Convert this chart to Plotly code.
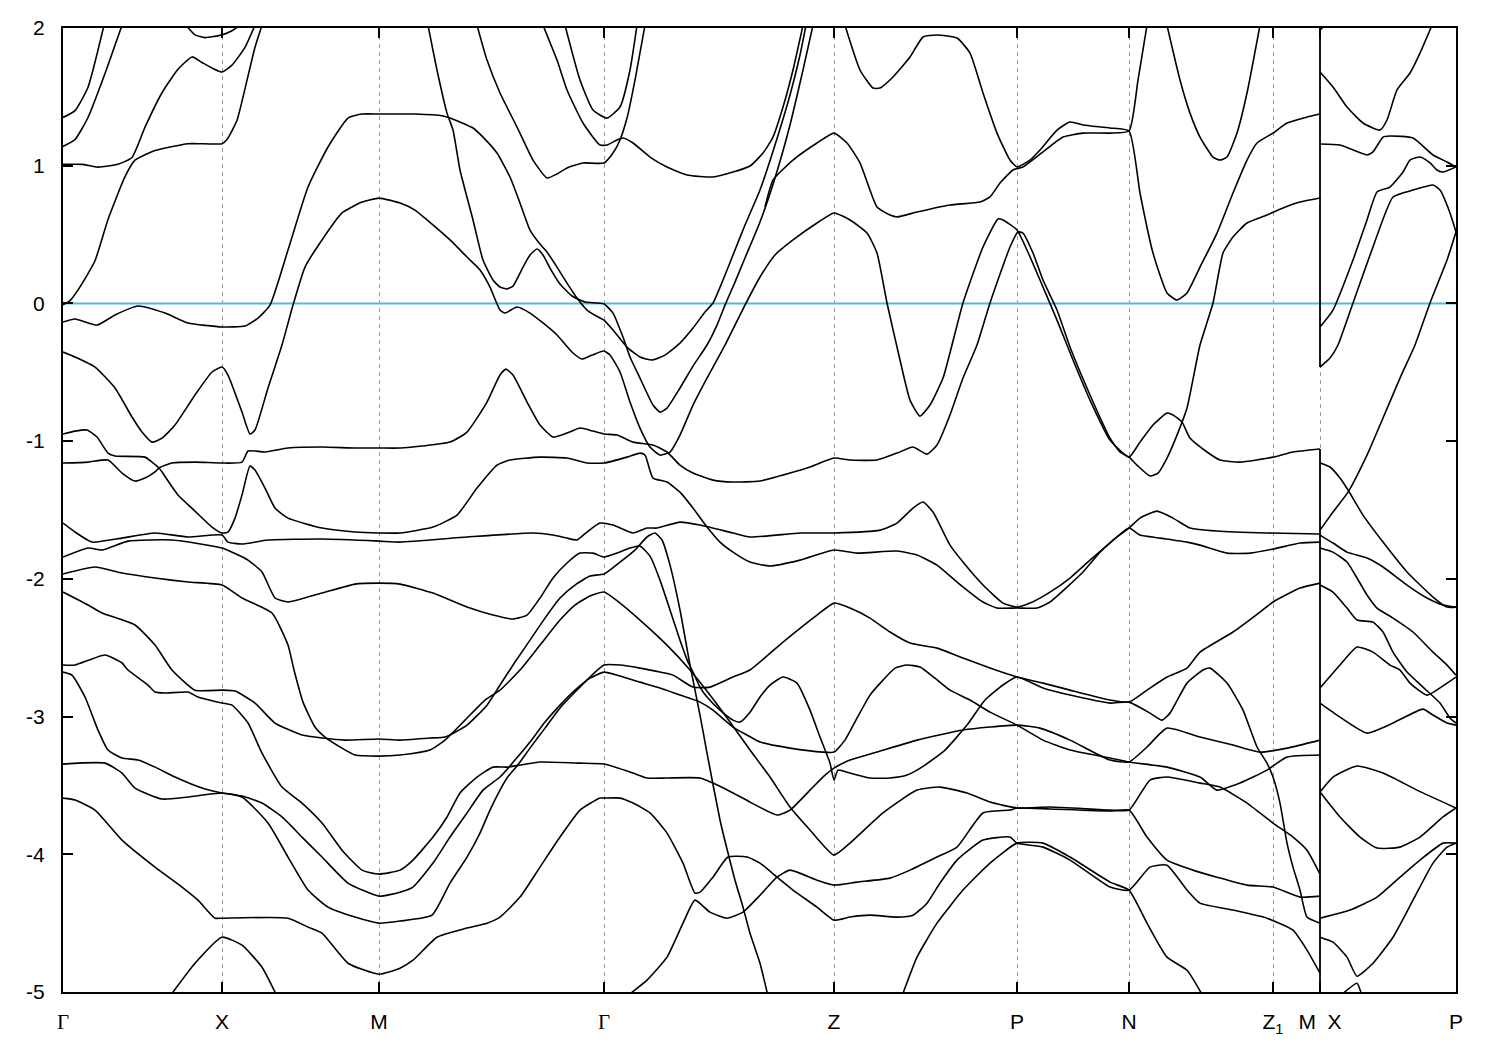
import plotly.graph_objects as go

# ---------------- axis data ----------------
hs_k = [0.000, 0.159, 0.316, 0.541, 0.771, 0.954, 1.066, 1.210, 1.257, 1.393]
GAM = '<span style="font-family:Liberation Serif">Γ</span>'
hs_labels = [GAM, "X", "M", GAM, "Z", "P", "N", "Z<sub>1</sub>", "M\u00a0\u00a0X", "P"]
y_ticks = [2, 1, 0, -1, -2, -3, -4, -5]
y_labels = ["2", "1", "0", "-1", "-2", "-3", "-4", "-5"]
fermi_level = 0.0
e_range = [-5.0, 2.0]

# ---------------- bands, path  Γ-X-M-Γ-Z-P-N-Z1-M  (k, E in eV) ----------------
b01 = [(0.000,1.35),(0.012,1.40),(0.025,1.57),(0.041,2.02)]
b02 = [(0.000,1.14),(0.012,1.19),(0.025,1.35),(0.042,1.67),(0.059,2.02)]
b03 = [(0.000,1.01),(0.019,1.01),(0.035,0.99),(0.055,1.01),(0.069,1.06),(0.082,1.28),(0.099,1.53),
       (0.115,1.70),(0.129,1.79),(0.139,1.75),(0.149,1.71),(0.159,1.68),(0.169,1.73),(0.182,1.86),(0.192,2.02)]
b04 = [(0.123,2.02),(0.132,1.95),(0.142,1.93),(0.159,1.95),(0.169,1.98),(0.177,2.02)]
b05 = [(0.000,-0.01),(0.007,0.02),(0.017,0.12),(0.032,0.31),(0.045,0.61),(0.062,0.92),(0.072,1.04),
       (0.092,1.11),(0.125,1.16),(0.159,1.16),(0.164,1.19),(0.174,1.33),(0.184,1.62),(0.192,1.86),(0.199,2.02)]
b06 = [(0.000,-0.135),(0.012,-0.113),(0.034,-0.157),(0.052,-0.084),(0.075,-0.019),(0.102,-0.070),(0.125,-0.142),
       (0.159,-0.171),(0.182,-0.164),(0.195,-0.106),(0.207,-0.012),(0.225,0.388),(0.245,0.845),(0.265,1.136),
       (0.285,1.346),(0.299,1.375),(0.316,1.375),(0.352,1.375),(0.380,1.361),(0.387,1.346),(0.410,1.274),
       (0.420,1.208),(0.434,1.092),(0.447,0.918),(0.457,0.729),(0.467,0.533),(0.477,0.431),(0.484,0.373),
       (0.494,0.264),(0.504,0.148),(0.514,0.039),(0.524,-0.048),(0.537,-0.106),(0.541,-0.121),(0.550,-0.193),
       (0.564,-0.317),(0.577,-0.389),(0.589,-0.411),(0.602,-0.375),(0.617,-0.288),(0.630,-0.179),(0.642,-0.062),
       (0.650,0.003),(0.660,0.170),(0.670,0.352),(0.682,0.569),(0.697,0.823),(0.712,1.150),(0.727,1.513),
       (0.737,1.804),(0.743,2.02)]
b07 = [(0.000,-0.353),(0.012,-0.389),(0.032,-0.462),(0.052,-0.614),(0.069,-0.825),(0.079,-0.934),(0.089,-1.007),
       (0.099,-0.978),(0.112,-0.883),(0.132,-0.665),(0.149,-0.498),(0.159,-0.462),(0.165,-0.520),(0.179,-0.789),
       (0.187,-0.948),(0.192,-0.919),(0.205,-0.614),(0.219,-0.302),(0.230,-0.012),(0.242,0.264),(0.259,0.461),
       (0.279,0.657),(0.299,0.736),(0.316,0.765),(0.337,0.729),(0.352,0.678),(0.364,0.606),(0.387,0.461),
       (0.404,0.337),(0.417,0.243),(0.427,0.119),(0.437,-0.048),(0.442,-0.070),(0.454,-0.026),(0.467,-0.070),
       (0.480,-0.142),(0.494,-0.229),(0.510,-0.360),(0.519,-0.404),(0.529,-0.375),(0.541,-0.346),(0.547,-0.375),
       (0.557,-0.498),(0.567,-0.716),(0.577,-0.905),(0.587,-1.043),(0.597,-1.101),(0.607,-1.079),(0.617,-0.956),
       (0.630,-0.738),(0.644,-0.542),(0.662,-0.302),(0.682,-0.012),(0.697,0.192),(0.712,0.352),(0.730,0.461),
       (0.754,0.584),(0.771,0.657),(0.787,0.606),(0.804,0.511),(0.814,0.366),(0.824,0.003),(0.837,-0.411),
       (0.847,-0.702),(0.857,-0.818),(0.867,-0.738),(0.880,-0.542),(0.889,-0.302),(0.900,0.003),(0.920,0.410),
       (0.935,0.613),(0.940,0.606),(0.954,0.533),(0.964,0.388),(0.977,0.170),(0.994,-0.121),(1.010,-0.411),
       (1.027,-0.702),(1.047,-0.992),(1.066,-1.116),(1.077,-1.007),(1.090,-0.883),(1.104,-0.796),(1.110,-0.810),
       (1.119,-0.861),(1.127,-0.978),(1.144,-1.079),(1.157,-1.137),(1.177,-1.152),(1.210,-1.116),(1.230,-1.079),
       (1.257,-1.057)]
b08 = [(0.365,2.02),(0.374,1.695),(0.384,1.382),(0.390,1.259),(0.397,0.969),(0.410,0.606),(0.420,0.315),
       (0.430,0.170),(0.437,0.119),(0.444,0.105),(0.450,0.126),(0.460,0.264),(0.467,0.352),(0.474,0.395),
       (0.480,0.352),(0.487,0.257),(0.497,0.141),(0.509,0.054),(0.522,0.010),(0.541,-0.004),(0.550,-0.070),
       (0.560,-0.244),(0.567,-0.389),(0.577,-0.542),(0.590,-0.738),(0.597,-0.789),(0.604,-0.760),(0.617,-0.614),
       (0.630,-0.455),(0.644,-0.302),(0.654,-0.157),(0.662,-0.012),(0.672,0.155),(0.682,0.330),(0.697,0.591),
       (0.712,0.911),(0.727,1.296),(0.740,1.695),(0.750,2.02)]
b09 = [(0.414,2.02),(0.424,1.767),(0.437,1.528),(0.454,1.281),(0.470,1.041),(0.484,0.911),(0.494,0.940),
       (0.504,0.984),(0.520,1.020),(0.541,1.020),(0.550,1.092),(0.557,1.187),(0.564,1.346),(0.572,1.622),(0.582,2.02)]
b10 = [(0.480,2.02),(0.494,1.767),(0.504,1.550),(0.520,1.310),(0.537,1.150),(0.544,1.150),(0.554,1.187),
       (0.560,1.201),(0.570,1.165),(0.587,1.063),(0.604,0.991),(0.624,0.933),(0.650,0.918),(0.670,0.954),
       (0.687,0.998),(0.700,1.092),(0.710,1.208),(0.720,1.426),(0.730,1.695),(0.740,2.02)]
b11 = [(0.502,2.02),(0.517,1.622),(0.530,1.404),(0.544,1.346),(0.557,1.426),(0.567,1.695),(0.574,2.02)]
b12 = [(0.702,0.700),(0.710,0.896),(0.730,1.041),(0.754,1.165),(0.771,1.237),(0.784,1.165),(0.797,1.020),
       (0.814,0.700),(0.827,0.642),(0.834,0.628),(0.854,0.664),(0.887,0.715),(0.917,0.736),(0.927,0.773),
       (0.937,0.874),(0.950,0.969),(0.960,0.991),(0.980,1.100),(1.000,1.208),(1.020,1.237),(1.047,1.237),
       (1.066,1.252),(1.075,1.622),(1.084,2.02)]
b13 = [(0.782,2.02),(0.797,1.695),(0.810,1.564),(0.817,1.564),(0.830,1.644),(0.847,1.789),(0.860,1.935),
       (0.874,1.949),(0.894,1.927),(0.907,1.818),(0.920,1.528),(0.934,1.237),(0.947,1.041),(0.954,0.991),
       (0.967,1.041),(0.977,1.114),(0.994,1.259),(1.007,1.317),(1.020,1.296),(1.047,1.274),(1.066,1.252),
       (1.077,0.802),(1.090,0.366),(1.104,0.076),(1.114,0.025),(1.124,0.076),(1.137,0.264),(1.154,0.511),
       (1.170,0.802),(1.184,1.041),(1.194,1.165),(1.210,1.237),(1.224,1.310),(1.244,1.353),(1.257,1.375)]
b14 = [(1.104,2.02),(1.117,1.622),(1.127,1.382),(1.137,1.208),(1.150,1.063),(1.157,1.041),(1.164,1.063),
       (1.174,1.237),(1.184,1.528),(1.197,2.02)]
b15 = [(0.000,-1.159),(0.025,-1.152),(0.045,-1.137),(0.059,-1.232),(0.072,-1.290),(0.082,-1.268),(0.092,-1.224),
       (0.096,-1.195),(0.109,-1.159),(0.132,-1.152),(0.159,-1.159),(0.179,-1.152),(0.185,-1.072),(0.192,-1.072),
       (0.202,-1.079),(0.225,-1.050),(0.259,-1.043),(0.292,-1.050),(0.316,-1.050),(0.337,-1.050),(0.387,-1.007),
       (0.404,-0.934),(0.424,-0.716),(0.437,-0.520),(0.443,-0.477),(0.450,-0.520),(0.464,-0.716),(0.477,-0.883),
       (0.490,-0.970),(0.504,-0.941),(0.517,-0.905),(0.530,-0.927),(0.541,-0.948),(0.554,-0.956),(0.570,-1.007),
       (0.590,-1.028),(0.604,-1.079),(0.617,-1.174),(0.630,-1.232),(0.650,-1.283),(0.670,-1.297),(0.697,-1.290),
       (0.727,-1.232),(0.747,-1.188),(0.771,-1.123),(0.787,-1.137),(0.814,-1.137),(0.834,-1.087),(0.850,-1.043),
       (0.864,-1.094),(0.874,-1.028),(0.887,-0.810),(0.900,-0.542),(0.914,-0.302),(0.927,0.003),(0.947,0.410),
       (0.955,0.519),(0.960,0.511),(0.970,0.366),(0.980,0.170),(0.994,-0.048),(1.007,-0.317),(1.027,-0.665),
       (1.047,-0.978),(1.057,-1.079),(1.066,-1.116),(1.074,-1.174),(1.087,-1.253),(1.095,-1.232),(1.104,-1.123),
       (1.114,-0.956),(1.124,-0.760),(1.137,-0.302),(1.150,0.003),(1.160,0.366),(1.170,0.482),(1.184,0.584),
       (1.204,0.642),(1.220,0.693),(1.237,0.736),(1.257,0.765)]
b16 = [(0.000,-0.948),(0.012,-0.927),(0.024,-0.919),(0.034,-0.970),(0.045,-1.087),(0.052,-1.108),(0.082,-1.116),
       (0.089,-1.152),(0.096,-1.195),(0.099,-1.224),(0.115,-1.391),(0.132,-1.508),(0.149,-1.624),(0.159,-1.667),
       (0.165,-1.660),(0.172,-1.559),(0.179,-1.391),(0.187,-1.181),(0.192,-1.210),(0.202,-1.341),(0.212,-1.486),
       (0.225,-1.559),(0.259,-1.631),(0.292,-1.660),(0.316,-1.667),(0.337,-1.667),(0.370,-1.624),(0.394,-1.537),
       (0.414,-1.341),(0.434,-1.174),(0.447,-1.137),(0.477,-1.116),(0.504,-1.123),(0.524,-1.159),(0.541,-1.159),
       (0.564,-1.116),(0.577,-1.087),(0.582,-1.101),(0.590,-1.268),(0.604,-1.297),(0.617,-1.370),(0.630,-1.486),
       (0.644,-1.624),(0.657,-1.733),(0.670,-1.806),(0.687,-1.878),(0.707,-1.907),(0.737,-1.864),(0.771,-1.791),
       (0.794,-1.813),(0.834,-1.798),(0.854,-1.827),(0.874,-1.900),(0.894,-2.023),(0.920,-2.168),(0.934,-2.212),
       (0.954,-2.212),(0.974,-2.212),(0.987,-2.168),(1.020,-1.950),(1.037,-1.806),(1.050,-1.718),(1.066,-1.631),
       (1.077,-1.559),(1.094,-1.508),(1.110,-1.559),(1.127,-1.631),(1.154,-1.653),(1.204,-1.667),(1.257,-1.674)]
b17 = [(0.000,-1.595),(0.012,-1.660),(0.029,-1.733),(0.059,-1.704),(0.092,-1.667),(0.125,-1.696),(0.159,-1.682),
       (0.165,-1.733),(0.179,-1.747),(0.205,-1.718),(0.259,-1.711),(0.316,-1.726),(0.337,-1.733),(0.404,-1.696),
       (0.470,-1.667),(0.490,-1.682),(0.504,-1.704),(0.514,-1.718),(0.524,-1.660),(0.537,-1.595),(0.550,-1.609),
       (0.570,-1.667),(0.584,-1.631),(0.594,-1.631),(0.617,-1.588),(0.637,-1.609),(0.670,-1.667),(0.687,-1.696),
       (0.737,-1.667),(0.771,-1.667),(0.817,-1.646),(0.834,-1.595),(0.850,-1.486),(0.860,-1.442),(0.870,-1.515),
       (0.887,-1.755),(0.900,-1.878),(0.920,-2.045),(0.940,-2.176),(0.954,-2.205),(0.967,-2.176),(0.987,-2.096),
       (1.007,-1.994),(1.027,-1.864),(1.047,-1.740),(1.066,-1.631),(1.077,-1.682),(1.097,-1.704),(1.124,-1.733),
       (1.137,-1.755),(1.164,-1.813),(1.187,-1.813),(1.210,-1.784),(1.237,-1.740),(1.257,-1.733)]
b18 = [(0.000,-1.842),(0.025,-1.776),(0.039,-1.791),(0.065,-1.726),(0.109,-1.718),(0.159,-1.776),(0.185,-1.864),
       (0.199,-1.950),(0.212,-2.139),(0.225,-2.168),(0.259,-2.103),(0.292,-2.038),(0.316,-2.031),(0.337,-2.038),
       (0.370,-2.103),(0.404,-2.205),(0.430,-2.263),(0.450,-2.292),(0.464,-2.263),(0.477,-2.139),(0.490,-1.994),
       (0.504,-1.885),(0.517,-1.813),(0.530,-1.813),(0.541,-1.842),(0.554,-1.813),(0.567,-1.776),(0.577,-1.762),
       (0.587,-1.835),(0.597,-2.009),(0.607,-2.226),(0.617,-2.445),(0.625,-2.604),(0.630,-2.677),(0.637,-2.786),
       (0.644,-2.858),(0.657,-2.953),(0.670,-3.026),(0.677,-3.040),(0.687,-2.968),(0.697,-2.858),(0.707,-2.771),
       (0.720,-2.713),(0.734,-2.757),(0.747,-2.953),(0.757,-3.149),(0.767,-3.338),(0.771,-3.461),(0.775,-3.389),
       (0.787,-3.410),(0.807,-3.446),(0.827,-3.446),(0.844,-3.425),(0.862,-3.352),(0.882,-3.243),(0.904,-3.062),
       (0.922,-2.880),(0.940,-2.771),(0.954,-2.713),(0.980,-2.793),(1.007,-2.844),(1.047,-2.902),(1.066,-2.895),
       (1.087,-2.975),(1.099,-3.026),(1.107,-2.975),(1.124,-2.757),(1.140,-2.662),(1.147,-2.648),(1.164,-2.757),
       (1.180,-2.953),(1.194,-3.221),(1.204,-3.338),(1.210,-3.439),(1.217,-3.628),(1.224,-3.919),(1.230,-4.093),
       (1.237,-4.260),(1.244,-4.456),(1.257,-4.500)]
b19 = [(0.000,-1.965),(0.032,-1.914),(0.059,-1.958),(0.092,-1.994),(0.125,-2.023),(0.159,-2.045),(0.179,-2.139),
       (0.209,-2.248),(0.225,-2.481),(0.231,-2.662),(0.240,-2.895),(0.252,-3.076),(0.262,-3.149),(0.279,-3.229),
       (0.292,-3.279),(0.316,-3.287),(0.337,-3.279),(0.367,-3.243),(0.382,-3.171),(0.402,-3.026),(0.422,-2.880),
       (0.437,-2.808),(0.457,-2.662),(0.477,-2.481),(0.497,-2.299),(0.512,-2.190),(0.527,-2.125),(0.541,-2.096),
       (0.557,-2.176),(0.577,-2.299),(0.604,-2.481),(0.627,-2.662),(0.647,-2.844),(0.667,-3.040),(0.687,-3.243),
       (0.707,-3.439),(0.727,-3.657),(0.747,-3.824),(0.771,-4.006),(0.787,-3.919),(0.820,-3.700),(0.854,-3.534),
       (0.877,-3.512),(0.904,-3.555),(0.927,-3.621),(0.954,-3.664),(0.987,-3.657),(1.047,-3.679),(1.066,-3.679),
       (1.087,-3.461),(1.104,-3.439),(1.137,-3.483),(1.157,-3.512),(1.184,-3.628),(1.210,-3.773),(1.230,-3.875),
       (1.244,-3.970),(1.257,-4.144)]
b20 = [(0.000,-2.096),(0.025,-2.190),(0.039,-2.248),(0.072,-2.335),(0.092,-2.481),(0.109,-2.662),(0.132,-2.808),
       (0.159,-2.808),(0.172,-2.815),(0.192,-2.902),(0.212,-3.047),(0.239,-3.134),(0.259,-3.156),(0.282,-3.171),
       (0.316,-3.163),(0.337,-3.171),(0.367,-3.156),(0.382,-3.149),(0.404,-3.062),(0.424,-2.917),(0.437,-2.771),
       (0.452,-2.604),(0.467,-2.445),(0.482,-2.285),(0.497,-2.139),(0.512,-2.045),(0.527,-1.980),(0.541,-1.965),
       (0.557,-1.878),(0.572,-1.791),(0.584,-1.696),(0.592,-1.667),(0.599,-1.718),(0.607,-1.900),(0.617,-2.226),
       (0.627,-2.626),(0.637,-2.989),(0.644,-3.265),(0.657,-3.751),(0.665,-3.991),(0.672,-4.188),(0.680,-4.384),
       (0.687,-4.573),(0.697,-4.791),(0.705,-5.03)]
b21 = [(0.000,-2.626),(0.012,-2.626),(0.042,-2.553),(0.059,-2.611),(0.065,-2.662),(0.085,-2.771),(0.092,-2.822),
       (0.102,-2.829),(0.125,-2.822),(0.135,-2.858),(0.159,-2.902),(0.169,-2.917),(0.185,-3.047),(0.199,-3.265),
       (0.219,-3.512),(0.239,-3.628),(0.259,-3.773),(0.279,-3.970),(0.299,-4.115),(0.316,-4.144),(0.337,-4.115),
       (0.350,-4.042),(0.370,-3.875),(0.384,-3.729),(0.397,-3.555),(0.414,-3.439),(0.430,-3.367),(0.444,-3.367),
       (0.457,-3.352),(0.477,-3.330),(0.517,-3.338),(0.541,-3.345),(0.570,-3.410),(0.584,-3.446),(0.604,-3.446),
       (0.637,-3.446),(0.650,-3.483),(0.670,-3.555),(0.687,-3.621),(0.714,-3.715),(0.727,-3.679),(0.747,-3.534),
       (0.762,-3.425),(0.771,-3.374),(0.787,-3.316),(0.814,-3.258),(0.854,-3.171),(0.900,-3.098),(0.927,-3.076),
       (0.954,-3.062),(0.977,-3.084),(1.007,-3.171),(1.047,-3.316),(1.066,-3.330),(1.084,-3.221),(1.104,-3.084),
       (1.137,-3.149),(1.170,-3.207),(1.197,-3.258),(1.224,-3.229),(1.257,-3.171)]
b22 = [(0.000,-2.677),(0.009,-2.699),(0.022,-2.858),(0.035,-3.098),(0.045,-3.243),(0.059,-3.301),(0.075,-3.316),
       (0.092,-3.367),(0.112,-3.439),(0.139,-3.519),(0.159,-3.555),(0.179,-3.577),(0.199,-3.628),(0.219,-3.729),
       (0.239,-3.875),(0.259,-4.020),(0.285,-4.209),(0.316,-4.304),(0.337,-4.275),(0.350,-4.238),(0.370,-4.064),
       (0.387,-3.875),(0.404,-3.700),(0.420,-3.534),(0.437,-3.439),(0.452,-3.316),(0.467,-3.185),(0.482,-3.040),
       (0.497,-2.917),(0.512,-2.808),(0.527,-2.721),(0.541,-2.677),(0.557,-2.706),(0.577,-2.750),(0.597,-2.793),
       (0.617,-2.844),(0.637,-2.895),(0.650,-2.953),(0.670,-3.076),(0.684,-3.134),(0.697,-3.185),(0.727,-3.229),
       (0.760,-3.258),(0.771,-3.258),(0.782,-3.171),(0.794,-3.011),(0.807,-2.844),(0.820,-2.735),(0.832,-2.648),
       (0.844,-2.626),(0.857,-2.640),(0.872,-2.721),(0.887,-2.808),(0.907,-2.880),(0.927,-2.968),(0.954,-3.062),
       (0.980,-3.171),(1.007,-3.243),(1.047,-3.301),(1.066,-3.330),(1.104,-3.367),(1.137,-3.439),(1.154,-3.534),
       (1.177,-3.483),(1.204,-3.389),(1.224,-3.294),(1.257,-3.279)]
b23 = [(0.000,-3.345),(0.042,-3.338),(0.059,-3.410),(0.072,-3.519),(0.099,-3.599),(0.125,-3.584),(0.159,-3.555),
       (0.179,-3.584),(0.205,-3.773),(0.225,-4.020),(0.245,-4.260),(0.265,-4.384),(0.292,-4.456),(0.316,-4.500),
       (0.337,-4.485),(0.369,-4.442),(0.387,-4.209),(0.404,-4.020),(0.417,-3.846),(0.427,-3.679),(0.437,-3.534),
       (0.444,-3.446),(0.454,-3.359),(0.467,-3.229),(0.482,-3.084),(0.497,-2.938),(0.512,-2.822),(0.527,-2.713),
       (0.541,-2.626),(0.557,-2.626),(0.577,-2.648),(0.597,-2.677),(0.610,-2.699),(0.630,-2.786),(0.647,-2.786),
       (0.670,-2.713),(0.687,-2.662),(0.720,-2.459),(0.754,-2.263),(0.771,-2.176),(0.787,-2.212),(0.807,-2.285),
       (0.827,-2.386),(0.847,-2.466),(0.874,-2.503),(0.900,-2.575),(0.927,-2.648),(0.954,-2.713),(0.980,-2.757),
       (1.007,-2.808),(1.047,-2.880),(1.066,-2.895),(1.084,-2.808),(1.104,-2.713),(1.124,-2.648),(1.137,-2.532),
       (1.170,-2.386),(1.197,-2.241),(1.210,-2.168),(1.237,-2.067),(1.257,-2.031)]
b24 = [(0.000,-3.592),(0.012,-3.606),(0.032,-3.679),(0.059,-3.897),(0.092,-4.093),(0.119,-4.238),(0.135,-4.333),
       (0.152,-4.464),(0.159,-4.464),(0.225,-4.464),(0.245,-4.529),(0.259,-4.573),(0.285,-4.791),(0.316,-4.871),
       (0.337,-4.827),(0.350,-4.769),(0.374,-4.602),(0.404,-4.536),(0.424,-4.500),(0.437,-4.456),(0.457,-4.311),
       (0.477,-4.093),(0.497,-3.875),(0.517,-3.679),(0.537,-3.592),(0.541,-3.592),(0.557,-3.592),(0.570,-3.628),
       (0.587,-3.700),(0.604,-3.846),(0.620,-4.064),(0.632,-4.282),(0.637,-4.275),(0.650,-4.166),(0.665,-4.020),
       (0.684,-4.020),(0.697,-4.064),(0.714,-4.166),(0.730,-4.260),(0.754,-4.384),(0.771,-4.478),(0.787,-4.456),
       (0.807,-4.442),(0.834,-4.456),(0.850,-4.442),(0.864,-4.355),(0.877,-4.209),(0.894,-4.042),(0.920,-3.897),
       (0.947,-3.875),(0.954,-3.919),(0.980,-3.948),(1.007,-4.042),(1.047,-4.238),(1.066,-4.260),(1.087,-4.093),
       (1.104,-4.079),(1.124,-4.260),(1.137,-4.355),(1.170,-4.405),(1.204,-4.464),(1.230,-4.551),(1.244,-4.696),
       (1.257,-4.863)]
b25 = [(0.564,-5.03),(0.584,-4.914),(0.604,-4.747),(0.620,-4.500),(0.632,-4.333),(0.647,-4.420),(0.664,-4.464),
       (0.680,-4.420),(0.697,-4.297),(0.714,-4.166),(0.727,-4.115),(0.754,-4.188),(0.771,-4.224),(0.794,-4.202),
       (0.827,-4.173),(0.847,-4.115),(0.874,-4.020),(0.894,-3.948),(0.920,-3.700),(0.947,-3.679),(0.954,-3.664),
       (0.987,-3.671),(1.047,-3.686),(1.066,-3.679),(1.084,-3.875),(1.104,-4.042),(1.130,-4.115),(1.154,-4.166),
       (1.184,-4.224),(1.210,-4.238),(1.237,-4.311),(1.257,-4.304)]
b26 = [(0.839,-5.03),(0.854,-4.747),(0.874,-4.500),(0.900,-4.260),(0.927,-4.064),(0.954,-3.919),(0.980,-3.919),
       (1.007,-4.020),(1.047,-4.202),(1.066,-4.260),(1.084,-4.500),(1.104,-4.747),(1.124,-4.842),(1.140,-5.03)]
b27 = [(0.107,-5.03),(0.132,-4.791),(0.159,-4.602),(0.179,-4.660),(0.199,-4.820),(0.214,-5.03)]

# ---------------- bands, path  X-P  ----------------
p01 = [(1.257,1.985),(1.262,2.02)]
p02 = [(1.257,1.680),(1.270,1.571),(1.284,1.426),(1.300,1.310),(1.317,1.259),(1.324,1.332),(1.334,1.550),
       (1.347,1.673),(1.357,1.818),(1.369,2.02)]
p03 = [(1.257,1.158),(1.277,1.150),(1.304,1.078),(1.310,1.100),(1.320,1.208),(1.327,1.216),(1.350,1.201),
       (1.370,1.078),(1.384,1.027),(1.393,0.991)]
p04 = [(1.257,-0.171),(1.270,-0.048),(1.290,0.315),(1.304,0.606),(1.314,0.809),(1.327,0.845),(1.340,0.954),
       (1.347,1.041),(1.357,1.063),(1.367,1.020),(1.374,0.969),(1.380,0.954),(1.393,0.991)]
p05 = [(1.257,-0.462),(1.267,-0.397),(1.275,-0.302),(1.290,0.003),(1.310,0.410),(1.330,0.773),(1.350,0.823),
       (1.370,0.860),(1.377,0.823),(1.387,0.657),(1.393,0.519)]
p06 = [(1.257,-1.646),(1.270,-1.515),(1.285,-1.370),(1.304,-1.101),(1.320,-0.832),(1.337,-0.542),(1.352,-0.302),
       (1.367,0.003),(1.384,0.315),(1.393,0.519)]
p07 = [(1.257,-1.159),(1.267,-1.188),(1.277,-1.268),(1.285,-1.355),(1.300,-1.537),(1.320,-1.733),(1.344,-1.950),
       (1.370,-2.132),(1.384,-2.205),(1.393,-2.205)]
p08 = [(1.257,-1.682),(1.270,-1.740),(1.284,-1.806),(1.304,-1.849),(1.320,-1.914),(1.344,-2.045),(1.364,-2.139),
       (1.380,-2.190),(1.393,-2.205)]
p09 = [(1.257,-1.776),(1.270,-1.806),(1.284,-1.878),(1.294,-1.994),(1.304,-2.117),(1.314,-2.212),(1.330,-2.285),
       (1.350,-2.386),(1.370,-2.532),(1.384,-2.626),(1.393,-2.699)]
p10 = [(1.257,-2.045),(1.270,-2.096),(1.284,-2.212),(1.294,-2.299),(1.310,-2.314),(1.320,-2.386),(1.330,-2.532),
       (1.344,-2.677),(1.360,-2.786),(1.377,-2.902),(1.387,-3.011),(1.393,-3.047)]
p11 = [(1.257,-2.793),(1.270,-2.684),(1.277,-2.626),(1.294,-2.495),(1.310,-2.532),(1.327,-2.626),(1.337,-2.662),
       (1.347,-2.757),(1.364,-2.844),(1.384,-2.757),(1.393,-2.713)]
p12 = [(1.257,-2.902),(1.277,-3.004),(1.304,-3.120),(1.330,-3.047),(1.360,-2.946),(1.370,-2.989),(1.384,-3.047),
       (1.393,-3.062)]
p13 = [(1.257,-3.548),(1.270,-3.439),(1.294,-3.359),(1.320,-3.410),(1.354,-3.534),(1.393,-3.664)]
p14 = [(1.257,-3.548),(1.277,-3.729),(1.297,-3.875),(1.314,-3.955),(1.337,-3.948),(1.357,-3.875),(1.380,-3.729),
       (1.393,-3.664)]
p15 = [(1.257,-4.464),(1.287,-4.405),(1.314,-4.311),(1.337,-4.166),(1.357,-4.042),(1.380,-3.919),(1.393,-3.919)]
p16 = [(1.257,-4.602),(1.270,-4.638),(1.284,-4.747),(1.294,-4.885),(1.310,-4.791),(1.330,-4.602),(1.350,-4.333),
       (1.370,-4.064),(1.384,-3.948),(1.393,-3.919)]
p17 = [(1.277,-5.03),(1.294,-4.936),(1.299,-5.03)]

main_path = [b01, b02, b03, b04, b05, b06, b07, b08, b09, b10, b11, b12, b13, b14, b15, b16, b17, b18,
             b19, b20, b21, b22, b23, b24, b25, b26, b27]
xp_path = [p01, p02, p03, p04, p05, p06, p07, p08, p09, p10, p11, p12, p13, p14, p15, p16, p17]

# ---------------- figure ----------------
fig = go.Figure()
fig.add_trace(go.Scatter(x=[hs_k[0], hs_k[-1]], y=[fermi_level, fermi_level], mode="lines",
                         line=dict(color="#56b4e9", width=2), hoverinfo="skip"))

for band in main_path + xp_path:
    ks = [p[0] for p in band]
    es = [p[1] for p in band]
    fig.add_trace(go.Scatter(x=ks, y=es, mode="lines",
                             line=dict(color="black", width=1.6, shape="spline", smoothing=0.5),
                             hoverinfo="skip"))

# vertical joins at the M|X discontinuity (band data jumping from M to X)
k_break = hs_k[8]
for e_top, e_bot in [(e_range[1] + 0.05, p05[0][1]), (b07[-1][1], e_range[0] - 0.05)]:
    fig.add_trace(go.Scatter(x=[k_break, k_break], y=[e_top, e_bot], mode="lines",
                             line=dict(color="black", width=1.8), hoverinfo="skip"))

fig.update_layout(
    width=1500, height=1050,
    margin=dict(l=63, r=44, t=28, b=58),
    plot_bgcolor="white", paper_bgcolor="white",
    showlegend=False,
    font=dict(family="Liberation Sans, Arial, sans-serif", size=21, color="black"),
)
fig.update_xaxes(range=[hs_k[0], hs_k[-1]], tickmode="array", tickvals=hs_k, ticktext=hs_labels,
                 ticks="inside", ticklen=10, tickwidth=2, tickcolor="black",
                 showline=True, linewidth=2, linecolor="black", mirror="ticks",
                 showgrid=True, gridcolor="#9a9a9a", gridwidth=1, griddash="4px,4px",
                 zeroline=False, ticklabelstandoff=10)
fig.update_yaxes(range=e_range, tickmode="array", tickvals=y_ticks, ticktext=y_labels,
                 ticks="inside", ticklen=10, tickwidth=2, tickcolor="black",
                 showline=True, linewidth=2, linecolor="black", mirror="ticks",
                 showgrid=False, zeroline=False, ticklabelstandoff=12)

fig.write_html("out.html", config={"displayModeBar": False},
               post_script="document.body.style.margin='0';document.body.style.overflow='hidden';")
